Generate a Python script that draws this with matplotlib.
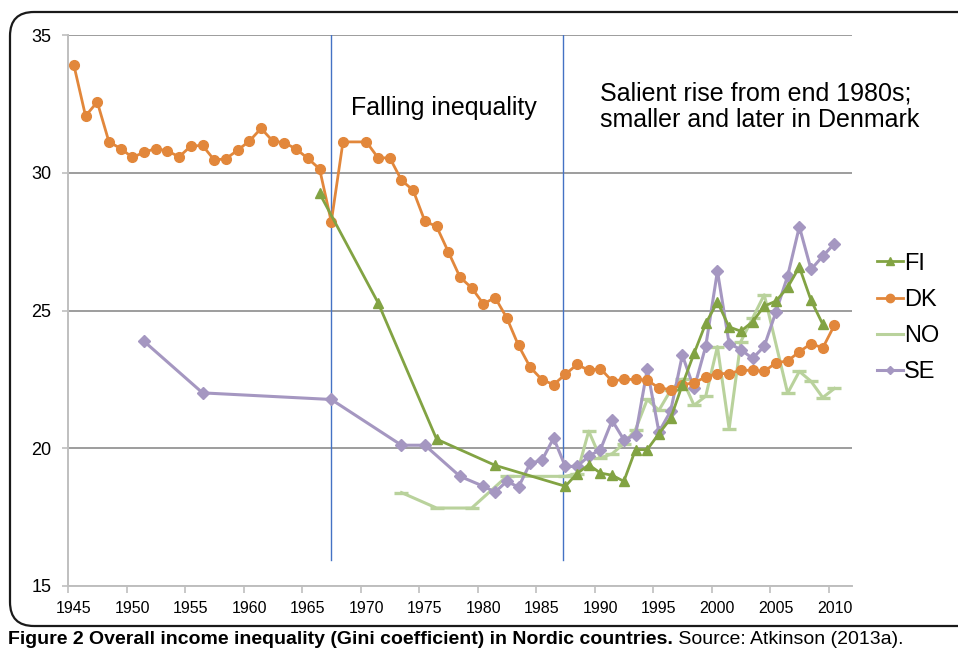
import matplotlib
matplotlib.use("Agg")
import matplotlib.pyplot as plt
from matplotlib.lines import Line2D
from matplotlib.patches import FancyBboxPatch
import numpy as np

plt.rcParams['font.family'] = ['Liberation Sans', 'DejaVu Sans']

# ---------------- data ----------------
dk_years = [1945, 1946, 1947, 1948, 1949, 1950, 1951, 1952, 1953, 1954, 1955, 1956,
            1957, 1958, 1959, 1960, 1961, 1962, 1963, 1964, 1965, 1966, 1967, 1968,
            1970, 1971, 1972, 1973, 1974, 1975, 1976, 1977, 1978, 1979, 1980, 1981,
            1982, 1983, 1984, 1985, 1986, 1987, 1988, 1989, 1990, 1991, 1992, 1993,
            1994, 1995, 1996, 1997, 1998, 1999, 2000, 2001, 2002, 2003, 2004, 2005,
            2006, 2007, 2008, 2009, 2010]
dk_values = [33.91, 32.06, 32.57, 31.12, 30.88, 30.56, 30.74, 30.88, 30.79, 30.58, 30.97, 30.99,
             30.46, 30.51, 30.82, 31.15, 31.61, 31.15, 31.09, 30.86, 30.52, 30.14, 28.22, 31.12,
             31.12, 30.54, 30.54, 29.73, 29.36, 28.24, 28.05, 27.13, 26.21, 25.82, 25.24, 25.47,
             24.73, 23.73, 22.94, 22.49, 22.31, 22.68, 23.04, 22.83, 22.89, 22.44, 22.50, 22.50,
             22.47, 22.19, 22.13, 22.31, 22.37, 22.59, 22.71, 22.71, 22.83, 22.83, 22.79, 23.10,
             23.17, 23.50, 23.80, 23.64, 24.47]

fi_years = [1966, 1971, 1976, 1981, 1987, 1988, 1989, 1990, 1991, 1992, 1993, 1994,
            1995, 1996, 1997, 1998, 1999, 2000, 2001, 2002, 2003, 2004, 2005, 2006,
            2007, 2008, 2009]
fi_values = [29.25, 25.28, 20.33, 19.38, 18.62, 19.08, 19.40, 19.10, 19.02, 18.80, 19.95, 19.95,
             20.53, 21.08, 22.30, 23.44, 24.53, 25.31, 24.40, 24.25, 24.59, 25.16, 25.34, 25.84,
             26.58, 25.37, 24.50]

no_years = [1973, 1976, 1979, 1982, 1987, 1988, 1989, 1990, 1991, 1992, 1993, 1994,
            1995, 1996, 1997, 1998, 1999, 2000, 2001, 2002, 2003, 2004, 2006, 2007,
            2008, 2009, 2010]
no_values = [18.39, 17.83, 17.83, 18.98, 18.98, 19.08, 20.62, 19.65, 19.80, 20.17, 20.68, 21.77,
             21.38, 22.10, 22.51, 21.56, 21.89, 23.69, 20.71, 23.87, 24.72, 25.57, 22.00, 22.79,
             22.43, 21.84, 22.17]

se_years = [1951, 1956, 1967, 1973, 1975, 1978, 1980, 1981, 1982, 1983, 1984, 1985,
            1986, 1987, 1988, 1989, 1990, 1991, 1992, 1993, 1994, 1995, 1996, 1997,
            1998, 1999, 2000, 2001, 2002, 2003, 2004, 2005, 2006, 2007, 2008, 2009, 2010]
se_values = [23.88, 22.01, 21.77, 20.11, 20.11, 18.98, 18.62, 18.41, 18.80, 18.59, 19.46, 19.56,
             20.37, 19.34, 19.34, 19.71, 19.95, 21.01, 20.31, 20.47, 22.86, 20.59, 21.35, 23.38,
             22.17, 23.70, 26.43, 23.80, 23.58, 23.26, 23.70, 24.95, 26.25, 28.04, 26.49, 26.97,
             27.43]

period_lines = [1967, 1986.8]
x_tick_labels = [1945, 1950, 1955, 1960, 1965, 1970, 1975, 1980, 1985, 1990, 1995, 2000, 2005, 2010]
y_ticks = [15, 20, 25, 30, 35]

# ---------------- styles ----------------
C_FI = '#82A343'
C_DK = '#E2873B'
C_NO = '#B9D29C'
C_SE = '#A597C1'
C_VL = '#4472C4'

fig = plt.figure(figsize=(9.58, 6.56), dpi=100)
ax = fig.add_axes([68/958, 70/656, (852-68)/958, (586-35)/656])

# outer rounded frame
frame = FancyBboxPatch((10/958, 30/656), 1.2, (644-30)/656,
                       boxstyle="round,pad=0,rounding_size=0.025",
                       transform=fig.transFigure, fill=False, ec='#1a1a1a', lw=1.6,
                       clip_on=False, mutation_aspect=958/656)
fig.patches.append(frame)

ax.set_xlim(1944.5, 2011.5)
ax.set_ylim(15, 35)

for xv in period_lines:
    ax.plot([xv, xv], [15.93, 35], color=C_VL, lw=1.0, zorder=2)

ax.plot(no_years, no_values, color=C_NO, lw=2.2, marker='_', ms=10, mew=2.4, zorder=3)
ax.plot(se_years, se_values, color=C_SE, lw=2.2, marker='D', ms=6, zorder=4)
ax.plot(dk_years, dk_values, color=C_DK, lw=2.0, marker='o', ms=7, zorder=5)
ax.plot(fi_years, fi_values, color=C_FI, lw=2.0, marker='^', ms=7.5, zorder=6)

ax.set_yticks(y_ticks)
ax.set_yticklabels([str(v) for v in y_ticks], fontsize=13)
ax.set_xticks(x_tick_labels)
ax.set_xticklabels([str(v) for v in x_tick_labels], fontsize=11.5)
ax.set_xticks(np.arange(1944.5, 2012, 5), minor=True)
ax.tick_params(axis='x', which='major', length=0, pad=11)
ax.tick_params(axis='x', which='minor', length=5, color='#BFBFBF', width=1.2)
ax.tick_params(axis='y', length=4, color='#BFBFBF', width=1.2, pad=8)

ax.yaxis.grid(True, color='#8C8C8C', lw=1.2, zorder=1)
ax.set_axisbelow(True)
for s in ['top', 'right']:
    ax.spines[s].set_visible(False)
for s in ['left', 'bottom']:
    ax.spines[s].set_color('#BFBFBF')
    ax.spines[s].set_linewidth(1.4)

ax.text(1968.7, 32.35, 'Falling inequality', fontsize=18, ha='left', va='center')
ax.text(1989.95, 32.4, 'Salient rise from end 1980s;\nsmaller and later in Denmark',
        fontsize=18, ha='left', va='center', linespacing=1.15)

handles = [Line2D([], [], color=C_FI, lw=2.0, marker='^', ms=6),
           Line2D([], [], color=C_DK, lw=2.0, marker='o', ms=6),
           Line2D([], [], color=C_NO, lw=2.2),
           Line2D([], [], color=C_SE, lw=2.2, marker='D', ms=4.5)]
leg = ax.legend(handles, ['FI', 'DK', 'NO', 'SE'], loc='center left',
                bbox_to_anchor=(877/958, (656-318)/656), bbox_transform=fig.transFigure,
                frameon=False, fontsize=17, handlelength=1.1, handletextpad=0.05,
                labelspacing=0.6, borderpad=0, borderaxespad=0)

t1 = fig.text(8/958, 16/656, 'Figure 2 Overall income inequality (Gini coefficient) in Nordic countries.',
              fontsize=14, fontweight='bold', ha='left', va='center')
ax.annotate(' Source: Atkinson (2013a).', xy=(1, 0), xycoords=t1, va='bottom', ha='left',
            fontsize=14, annotation_clip=False)

fig.savefig('out.png', dpi=100)
